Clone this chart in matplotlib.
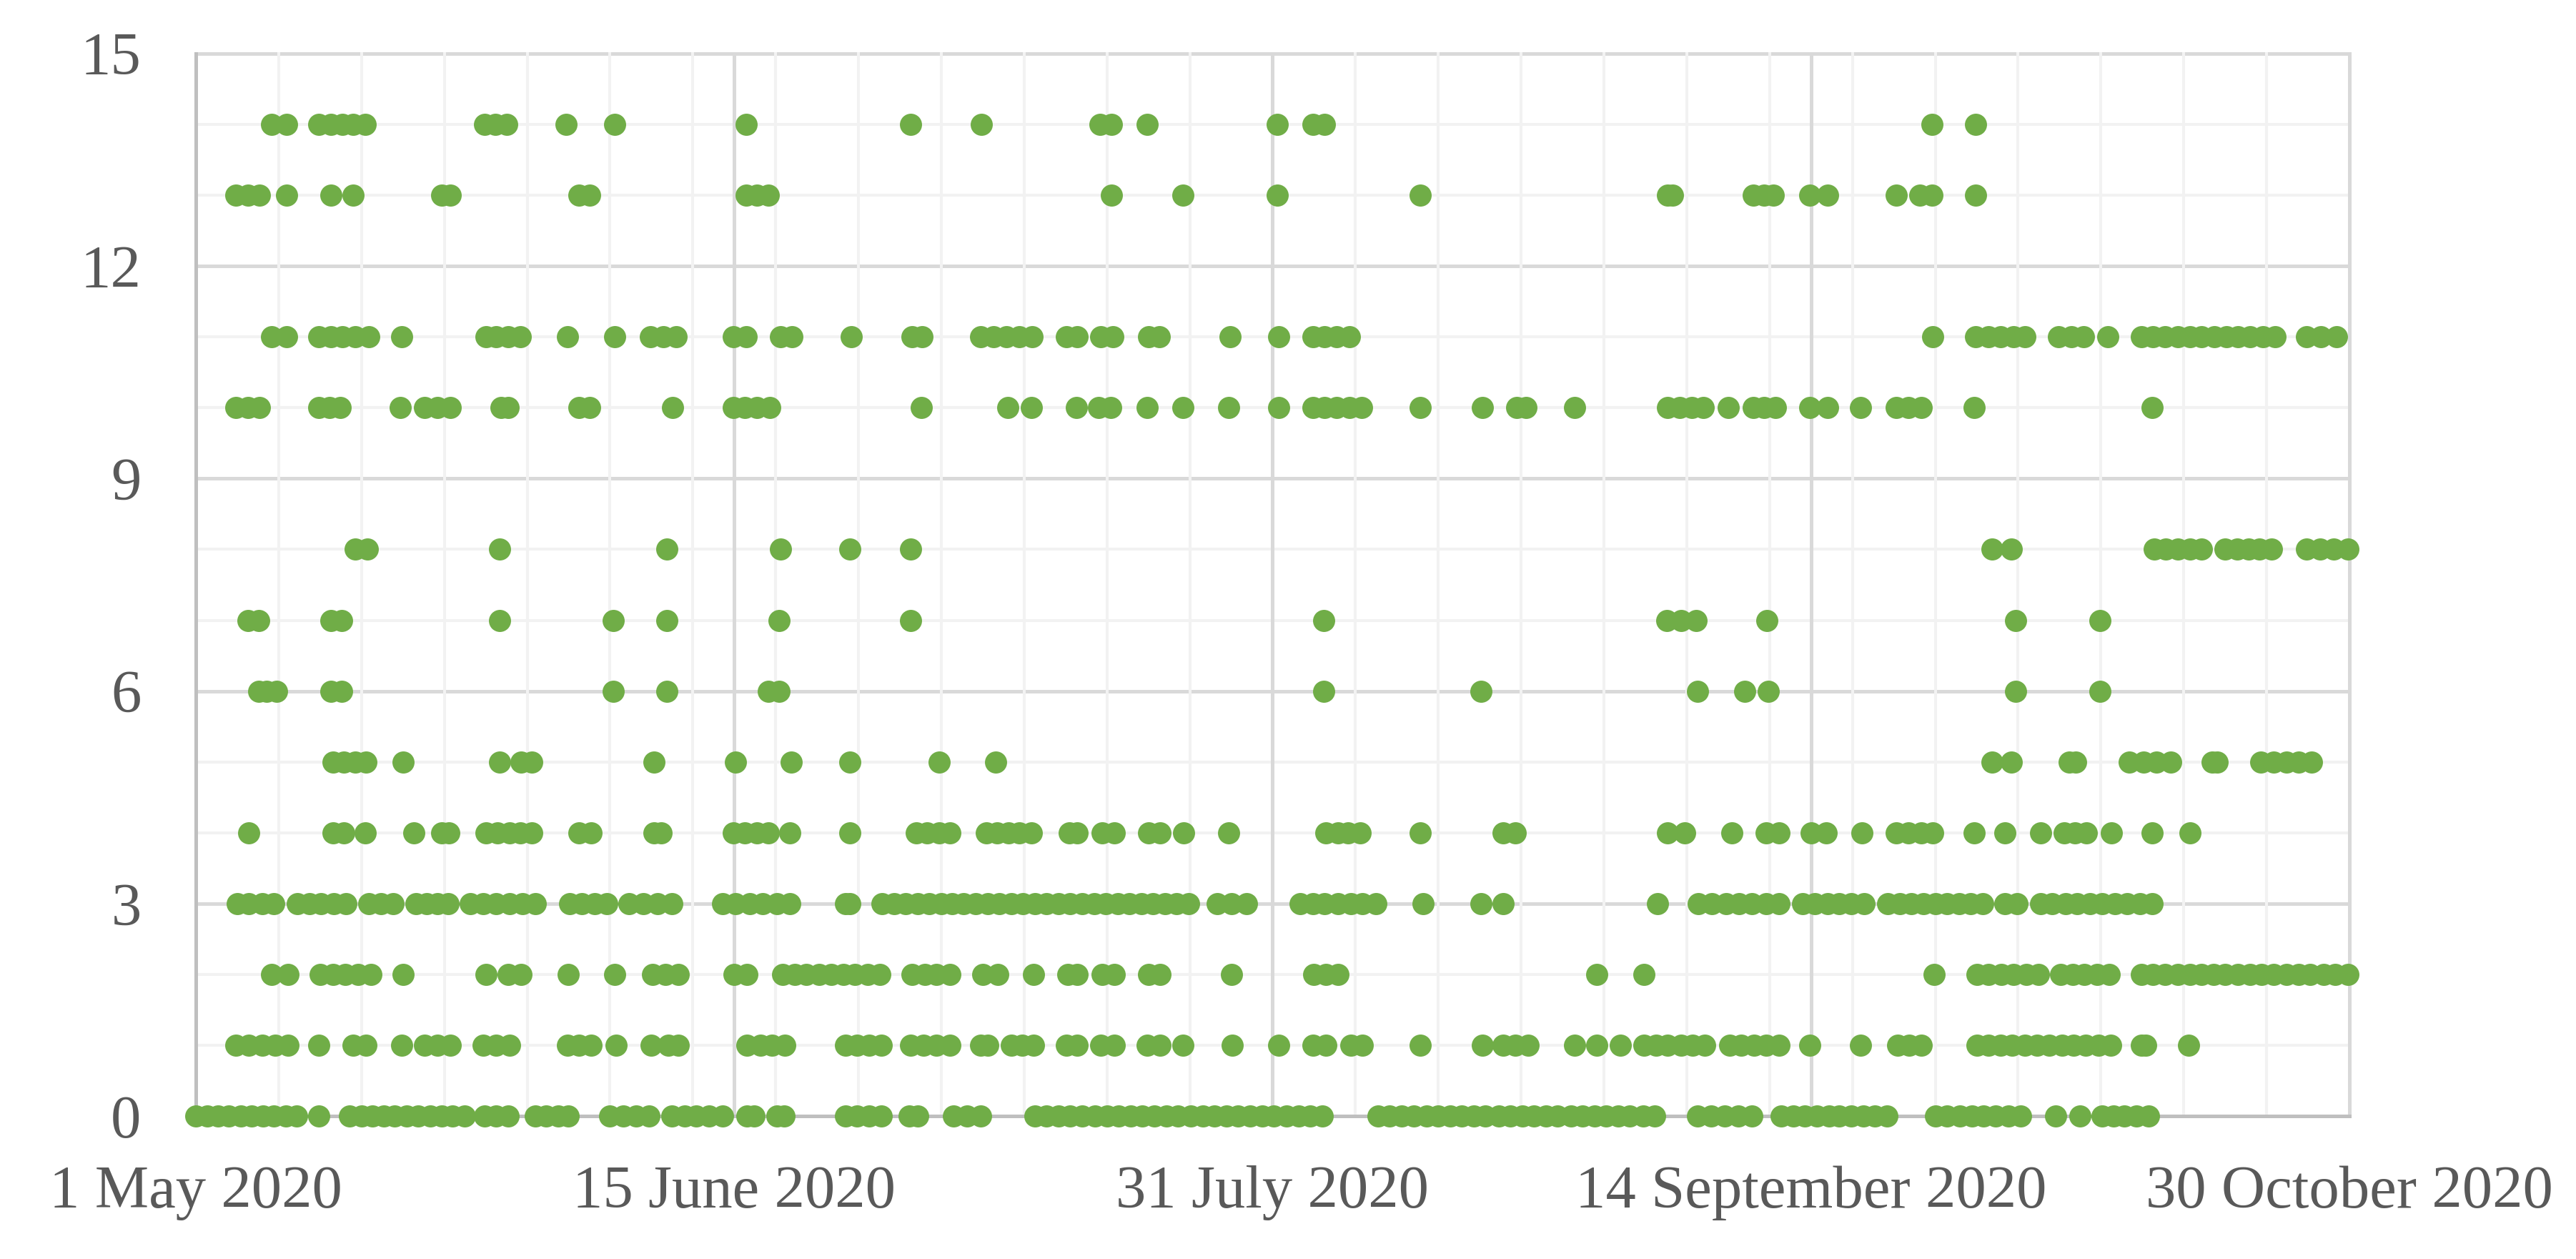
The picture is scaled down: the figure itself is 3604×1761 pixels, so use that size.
import numpy as np
import pandas as pd
import matplotlib
matplotlib.use("Agg")
import matplotlib.pyplot as plt
import matplotlib.dates as mdates

plt.rcParams['font.family'] = ['Liberation Serif', 'DejaVu Serif']

# axis: 1 May 2020 .. 30 Oct 2020, labels every 45.5 days, weekly minor grid
start = pd.Timestamp("2020-05-01")
span_days = 182
major_step = 45.5
minor_step = 7
y_ticks = [0, 3, 6, 9, 12, 15]

# day offsets from 1 May 2020 (fractional) for each value
days_0 = [0.0, 0.95, 1.9, 2.8, 3.8, 4.7, 5.7, 6.6, 7.6, 8.5, 10.4,
          13.0, 14.0, 14.9, 15.9, 16.8, 17.8, 18.8, 19.8, 20.8, 21.7, 22.7, 24.4, 25.4, 26.4,
          28.7, 29.6, 30.6, 31.5, 35.0, 36.1, 37.2, 38.3, 40.2, 41.3, 42.3, 43.4, 44.5,
          46.6, 47.2, 49.1, 49.7, 54.9, 55.9, 56.9, 57.9, 60.3, 61.0, 64.0, 65.15, 66.3,
          70.9, 71.9, 72.9, 73.9, 74.9, 76.0, 77.0, 78.0, 79.0, 80.0, 81.0, 82.0, 83.0,
          84.1, 85.1, 86.1, 87.1, 88.1, 89.1, 90.1, 91.1, 92.2, 93.2, 94.2, 95.2,
          99.9, 100.9, 101.9, 102.9, 104.0, 105.0, 106.0, 107.0, 108.0, 109.0, 110.1, 111.1,
          112.1, 113.1, 114.1, 115.1, 116.2, 117.2, 118.2, 119.2, 120.2, 121.2, 122.3, 123.3,
          126.9, 128.05, 129.2, 130.35, 131.5,
          134.0, 135.0, 136.0, 137.0, 138.0, 138.9, 139.9, 140.9, 141.9, 142.9,
          147.0, 148.0, 149.1, 150.1, 151.1, 152.1, 153.2, 154.2, 157.2, 159.2,
          161.1, 162.05, 163.0, 164.0, 165.0]
days_1 = [3.4, 4.5, 5.6, 6.7, 7.8, 10.4, 13.3, 14.4, 17.4, 19.35, 20.4, 21.5, 24.3, 25.4, 26.5,
          31.4, 32.4, 33.4, 35.5, 38.5, 39.9, 40.8, 46.6, 47.7, 48.7, 49.8, 54.9, 55.9, 56.9, 57.9,
          60.4, 61.5, 62.6, 63.7, 66.35, 66.9, 68.9, 69.85, 70.8, 73.6, 74.5, 76.45, 77.6,
          80.4, 81.5, 83.4, 87.6, 91.5, 94.4, 95.5, 97.6, 98.6, 103.5, 108.7, 110.5, 111.5,
          112.6, 116.5, 118.4, 120.4, 122.4, 123.4, 124.4, 125.5, 126.5, 127.5,
          129.6, 130.6, 131.7, 132.7, 133.8, 136.4, 140.7, 143.8, 144.8, 145.8,
          150.5, 151.5, 152.5, 153.5, 154.6, 155.6, 156.6, 157.7, 158.7, 159.7, 160.8, 161.8,
          164.4, 164.8, 168.4]
days_2 = [6.4, 7.8, 10.5, 11.6, 12.65, 13.7, 14.8, 17.5, 24.5, 26.4, 27.5, 31.5, 35.4,
          38.6, 39.7, 40.8, 45.5, 46.6, 49.6, 50.6, 51.6, 52.7, 53.7, 54.7, 55.7, 56.8, 57.8,
          60.5, 61.6, 62.6, 63.7, 66.5, 67.8, 70.8, 73.7, 74.5, 76.6, 77.6, 80.5, 81.5, 87.5,
          94.5, 95.5, 96.5, 118.4, 122.4, 146.9,
          150.5, 151.5, 152.6, 153.6, 154.7, 155.7, 157.6, 158.6, 159.6, 160.7, 161.7,
          164.4, 165.4, 166.4, 167.5, 168.5, 169.5, 170.5, 171.5, 172.6, 173.6, 174.6,
          175.6, 176.7, 177.7, 178.7, 179.8, 180.8, 181.9]
days_3 = [3.5, 4.5, 5.6, 6.6, 8.55, 9.6, 10.6, 11.65, 12.7, 14.6, 15.65, 16.7,
          18.6, 19.5, 20.4, 21.3, 23.2, 24.3, 25.4, 26.5, 27.6, 28.7, 31.6, 32.6, 33.7, 34.75,
          36.6, 37.8, 39.0, 40.2, 44.5, 45.6, 46.8, 47.9, 49.1, 50.2, 54.9, 55.3,
          58.0, 59.0, 60.0, 61.0, 62.0, 63.0, 63.9, 64.9, 65.9, 66.9, 67.9, 68.9, 69.9,
          70.9, 71.9, 72.9, 73.9, 74.9, 75.9, 76.9, 77.9, 78.9, 79.9, 80.9, 81.9, 82.9, 83.9,
          86.3, 87.5, 88.8, 93.3, 94.4, 95.4, 96.5, 97.6, 98.6, 99.7, 103.7, 108.6, 110.5,
          123.5, 127.0, 128.1, 129.3, 130.4, 131.5, 132.7, 133.8,
          135.8, 136.8, 137.9, 138.9, 139.9, 141.0,
          143.0, 144.0, 145.0, 146.0, 147.0, 148.0, 149.0, 150.0, 151.0, 152.9, 153.9,
          155.9, 156.9, 158.0, 159.0, 160.1, 161.1, 162.2, 163.2, 164.3, 165.3]
days_4 = [4.5, 11.6, 12.5, 14.3, 18.45, 20.8, 21.4, 24.5, 25.5, 26.5, 27.4, 28.4, 32.4, 33.4,
          38.7, 39.3, 45.4, 46.4, 47.4, 48.4, 50.2, 55.3, 60.9, 61.8, 62.8, 63.7,
          66.8, 67.7, 68.7, 69.6, 70.6, 73.8, 74.5, 76.6, 77.6, 80.5, 81.5, 83.5, 87.3,
          95.5, 96.5, 97.4, 98.4, 103.5, 110.5, 111.5, 124.4, 125.8, 129.8, 132.7, 133.8,
          136.5, 137.8, 140.8, 143.7, 144.7, 145.8, 146.8, 150.3, 152.9, 155.9,
          157.9, 158.8, 159.8, 161.9, 165.3, 168.5]
days_5 = [11.6, 12.5, 13.5, 14.4, 17.5, 25.7, 27.5, 28.4, 38.7, 45.6, 50.3, 55.3, 62.8, 67.6,
          151.8, 153.4, 158.35, 158.85, 163.4, 164.6, 165.7, 166.9, 170.4, 170.8,
          174.5, 175.6, 176.7, 177.7, 178.8]
days_6 = [5.3, 6.0, 6.8, 11.4, 12.3, 35.3, 39.8, 48.4, 49.3, 95.3, 108.6,
          126.9, 130.9, 132.9, 153.8, 160.9]
days_7 = [4.4, 5.3, 11.4, 12.3, 25.7, 35.3, 39.8, 49.3, 60.4, 95.3,
          124.3, 125.5, 126.8, 132.8, 153.8, 160.9]
days_8 = [13.5, 14.5, 25.7, 39.8, 49.4, 55.3, 60.4, 151.8, 153.4,
          165.5, 166.5, 167.5, 168.5, 169.5, 171.5, 172.5, 173.5, 174.4, 175.4,
          178.4, 179.5, 180.7, 181.9]
days_10 = [3.4, 4.4, 5.4, 10.4, 11.3, 12.2, 17.3, 19.35, 20.4, 21.5, 25.8, 26.4, 32.4, 33.3,
           40.3, 45.4, 46.4, 47.4, 48.5, 61.3, 68.6, 70.6, 74.4, 76.3, 77.3, 80.4, 83.4, 87.3,
           91.5, 94.4, 95.4, 96.4, 97.5, 98.5, 103.5, 108.7, 111.6, 112.4, 116.5,
           124.4, 125.4, 126.4, 127.4, 129.5, 131.6, 132.5, 133.5, 136.4, 137.9, 140.7,
           143.7, 144.7, 145.8, 150.3, 165.3]
days_11 = [6.4, 7.7, 10.4, 11.4, 12.4, 13.5, 14.6, 17.4, 24.5, 25.4, 26.4, 27.4, 31.4, 35.4,
           38.4, 39.5, 40.6, 45.4, 46.5, 49.4, 50.4, 55.4, 60.5, 61.4,
           66.3, 67.4, 68.5, 69.6, 70.7, 73.6, 74.5, 76.5, 77.5, 80.5, 81.4, 87.4, 91.5,
           94.4, 95.4, 96.4, 97.5, 146.8, 150.4, 151.5, 152.5, 153.6, 154.6,
           157.4, 158.5, 159.5, 161.6, 164.4, 165.4, 166.4, 167.5, 168.5, 169.5, 170.6,
           171.6, 172.6, 173.6, 174.7, 175.7, 178.4, 179.6, 180.9]
days_13 = [3.4, 4.4, 5.4, 7.7, 11.4, 13.3, 20.8, 21.5, 32.4, 33.3, 46.5, 47.4, 48.4,
           77.4, 83.4, 91.4, 103.5, 124.4, 124.8, 131.6, 132.5, 133.3, 136.4, 137.9,
           143.7, 145.7, 146.7, 150.4]
days_14 = [6.4, 7.7, 10.4, 11.4, 12.4, 13.3, 14.3, 24.4, 25.3, 26.3, 31.3, 35.4, 46.5,
           60.4, 66.4, 76.4, 77.4, 80.4, 91.4, 94.4, 95.4, 146.7, 150.4]

levels = [0, 1, 2, 3, 4, 5, 6, 7, 8, 10, 11, 13, 14]
rows = [days_0, days_1, days_2, days_3, days_4, days_5, days_6, days_7, days_8,
        days_10, days_11, days_13, days_14]

W, H = 3604, 1761
fig = plt.figure(figsize=(W / 100, H / 100), dpi=100)
ax = fig.add_axes([274 / W, 1 - 1561 / H, (3287 - 274) / W, (1561 - 75) / H])

x0 = mdates.date2num(start)

# gridlines (horizontal under vertical, like Excel)
for y in range(16):
    major = y % 3 == 0
    ax.axhline(y, color="#d9d9d9" if major else "#f2f2f2",
               lw=3.6 if major else 2.9, zorder=0.5, clip_on=False)
for d in np.arange(minor_step, span_days + 0.1, minor_step):
    ax.axvline(x0 + d, color="#f2f2f2", lw=2.9, zorder=0.6, clip_on=False)
major_pos = [x0 + k * major_step for k in range(int(span_days / major_step) + 1)]
for xm in major_pos[1:]:
    ax.axvline(xm, color="#d9d9d9", lw=3.6, zorder=0.7, clip_on=False)

for lev, days in zip(levels, rows):
    xs = x0 + np.array(days)
    ax.scatter(xs, np.full(len(xs), lev), s=497, color="#70AD47",
               linewidths=0, zorder=3, clip_on=False)

ax.set_xlim(x0, x0 + span_days)
ax.set_ylim(0, 15)

def date_label(v):
    dt = mdates.num2date(v)
    return f"{dt.day} {dt.strftime('%B')} {dt.year}"

ax.set_xticks(major_pos)
ax.set_xticklabels([date_label(v) for v in major_pos])
ax.set_yticks(y_ticks)
ax.tick_params(length=0, labelsize=61, labelcolor="#595959")
ax.tick_params(axis='x', pad=50)
ax.tick_params(axis='y', pad=55)

for s in ["top", "right"]:
    ax.spines[s].set_visible(False)
for s in ["left", "bottom"]:
    ax.spines[s].set_color("#bfbfbf")
    ax.spines[s].set_linewidth(3.6)

fig.savefig("out.png", dpi=100)
